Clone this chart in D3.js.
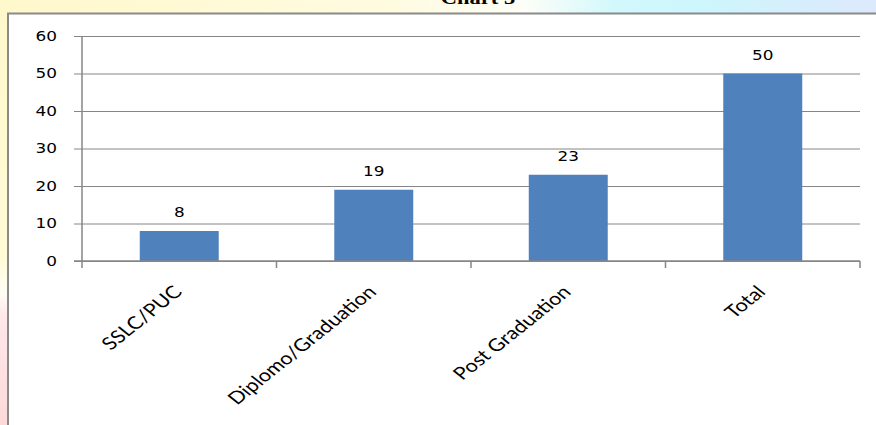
<!DOCTYPE html>
<html><head><meta charset="utf-8">
<script src="https://cdn.jsdelivr.net/npm/d3@7"></script>
<style>html,body{margin:0;padding:0;background:#fff;}svg{display:block;}</style>
</head><body>
<svg id="c" width="876" height="425"></svg>
<script>
const categories = ["SSLC/PUC", "Diplomo/Graduation", "Post Graduation", "Total"];
const values = [8, 19, 23, 50];
const yTicks = [0, 10, 20, 30, 40, 50, 60];
const title = "Chart 3";

const W = 876, H = 425;
const svg = d3.select("#c");
const defs = svg.append("defs");
const SX = 1.25; // horizontal stretch of the reference picture

// background gradients
const gTop = defs.append("linearGradient").attr("id","gTop").attr("x1","0").attr("x2","1").attr("y1","0").attr("y2","0");
[[0,"#fff8cc"],[0.45,"#fffbe0"],[0.6,"#fdfef8"],[0.7,"#d2f8fc"],[0.8,"#cdf6fc"],[1,"#dce9fb"]]
  .forEach(([o,c])=>gTop.append("stop").attr("offset",o).attr("stop-color",c));
const gLeft = defs.append("linearGradient").attr("id","gLeft").attr("x1","0").attr("x2","0").attr("y1","0").attr("y2","1");
[[0,"#fff8cc"],[0.6,"#fffbd6"],[0.69,"#fffdf4"],[0.74,"#fde8ea"],[1,"#fdd9d9"]]
  .forEach(([o,c])=>gLeft.append("stop").attr("offset",o).attr("stop-color",c));

svg.append("rect").attr("x",0).attr("y",0).attr("width",W).attr("height",14).attr("fill","url(#gTop)");
svg.append("rect").attr("x",0).attr("y",0).attr("width",8).attr("height",H).attr("fill","url(#gLeft)");

// title (mostly cut off at the top, as in the reference)
svg.append("text").attr("transform",`translate(478,4) scale(${SX},1)`)
  .attr("text-anchor","middle").attr("font-family","Liberation Serif, serif")
  .attr("font-weight","bold").attr("font-size",18).attr("fill","#000").text(title);

// chart frame
svg.append("rect").attr("x",8).attr("y",13.5).attr("width",W).attr("height",H)
  .attr("fill","#fff").attr("stroke","#8a8a8a").attr("stroke-width",2);

const pLeft = 82, pRight = 860, pTop = 36, pBottom = 261;
const y = d3.scaleLinear().domain([0,60]).range([pBottom, pTop]);
const x = d3.scaleBand().domain(categories).range([pLeft,pRight]).paddingInner(0.594).paddingOuter(0.297);
const xEdge = d3.scaleBand().domain(categories).range([pLeft,pRight]).padding(0);

const axisColor = "#868686";

// gridlines + y ticks
const gy = svg.append("g").attr("transform",`translate(${pLeft},0)`)
  .call(d3.axisLeft(y).tickValues(yTicks).tickSizeInner(8).tickSizeOuter(0).tickFormat(""));
gy.selectAll(".tick line").attr("x2", pRight-pLeft).attr("x1",-8).attr("stroke",axisColor);
gy.select(".domain").remove();

// y tick labels
svg.append("g").selectAll("text").data(yTicks).join("text")
  .attr("transform", d=>`translate(57,${y(d)}) scale(${SX},1)`)
  .attr("dy","0.36em").attr("text-anchor","end")
  .attr("font-family","DejaVu Sans, sans-serif").attr("font-size",13.5).attr("fill","#000")
  .text(d=>d);

// bars
svg.append("g").selectAll("rect").data(values).join("rect")
  .attr("x",(d,i)=>x(categories[i])).attr("width",x.bandwidth())
  .attr("y",d=>y(d)).attr("height",d=>y(0)-y(d)).attr("fill","#4f81bd");

// y axis line
svg.append("line").attr("x1",pLeft).attr("x2",pLeft).attr("y1",pTop).attr("y2",pBottom+7)
  .attr("stroke",axisColor).attr("stroke-width",1.5);
// x axis line
svg.append("line").attr("x1",pLeft-8).attr("x2",pRight).attr("y1",pBottom).attr("y2",pBottom)
  .attr("stroke",axisColor).attr("stroke-width",1.5);
// x ticks at band edges
const edges = categories.map(c=>xEdge(c)).concat([xEdge.range()[1]]).slice(1);
svg.append("g").selectAll("line").data(edges).join("line")
  .attr("x1",d=>d).attr("x2",d=>d).attr("y1",pBottom).attr("y2",pBottom+7)
  .attr("stroke",axisColor).attr("stroke-width",1.5);

// data labels
svg.append("g").selectAll("text").data(values).join("text")
  .attr("transform",(d,i)=>`translate(${x(categories[i])+x.bandwidth()/2},${y(d)-14}) scale(${SX},1)`)
  .attr("text-anchor","middle").attr("font-family","DejaVu Sans, sans-serif")
  .attr("font-size",13.5).attr("fill","#000").text(d=>d);

// category labels
svg.append("g").selectAll("text").data(categories).join("text")
  .attr("transform",c=>`translate(${xEdge(c)+xEdge.bandwidth()/2+4},${pBottom+32}) scale(${SX},1) rotate(-45)`)
  .attr("text-anchor","end").attr("font-family","Lato, sans-serif")
  .attr("font-size",17.5).attr("fill","#000").text(c=>c);
</script>
</body></html>
